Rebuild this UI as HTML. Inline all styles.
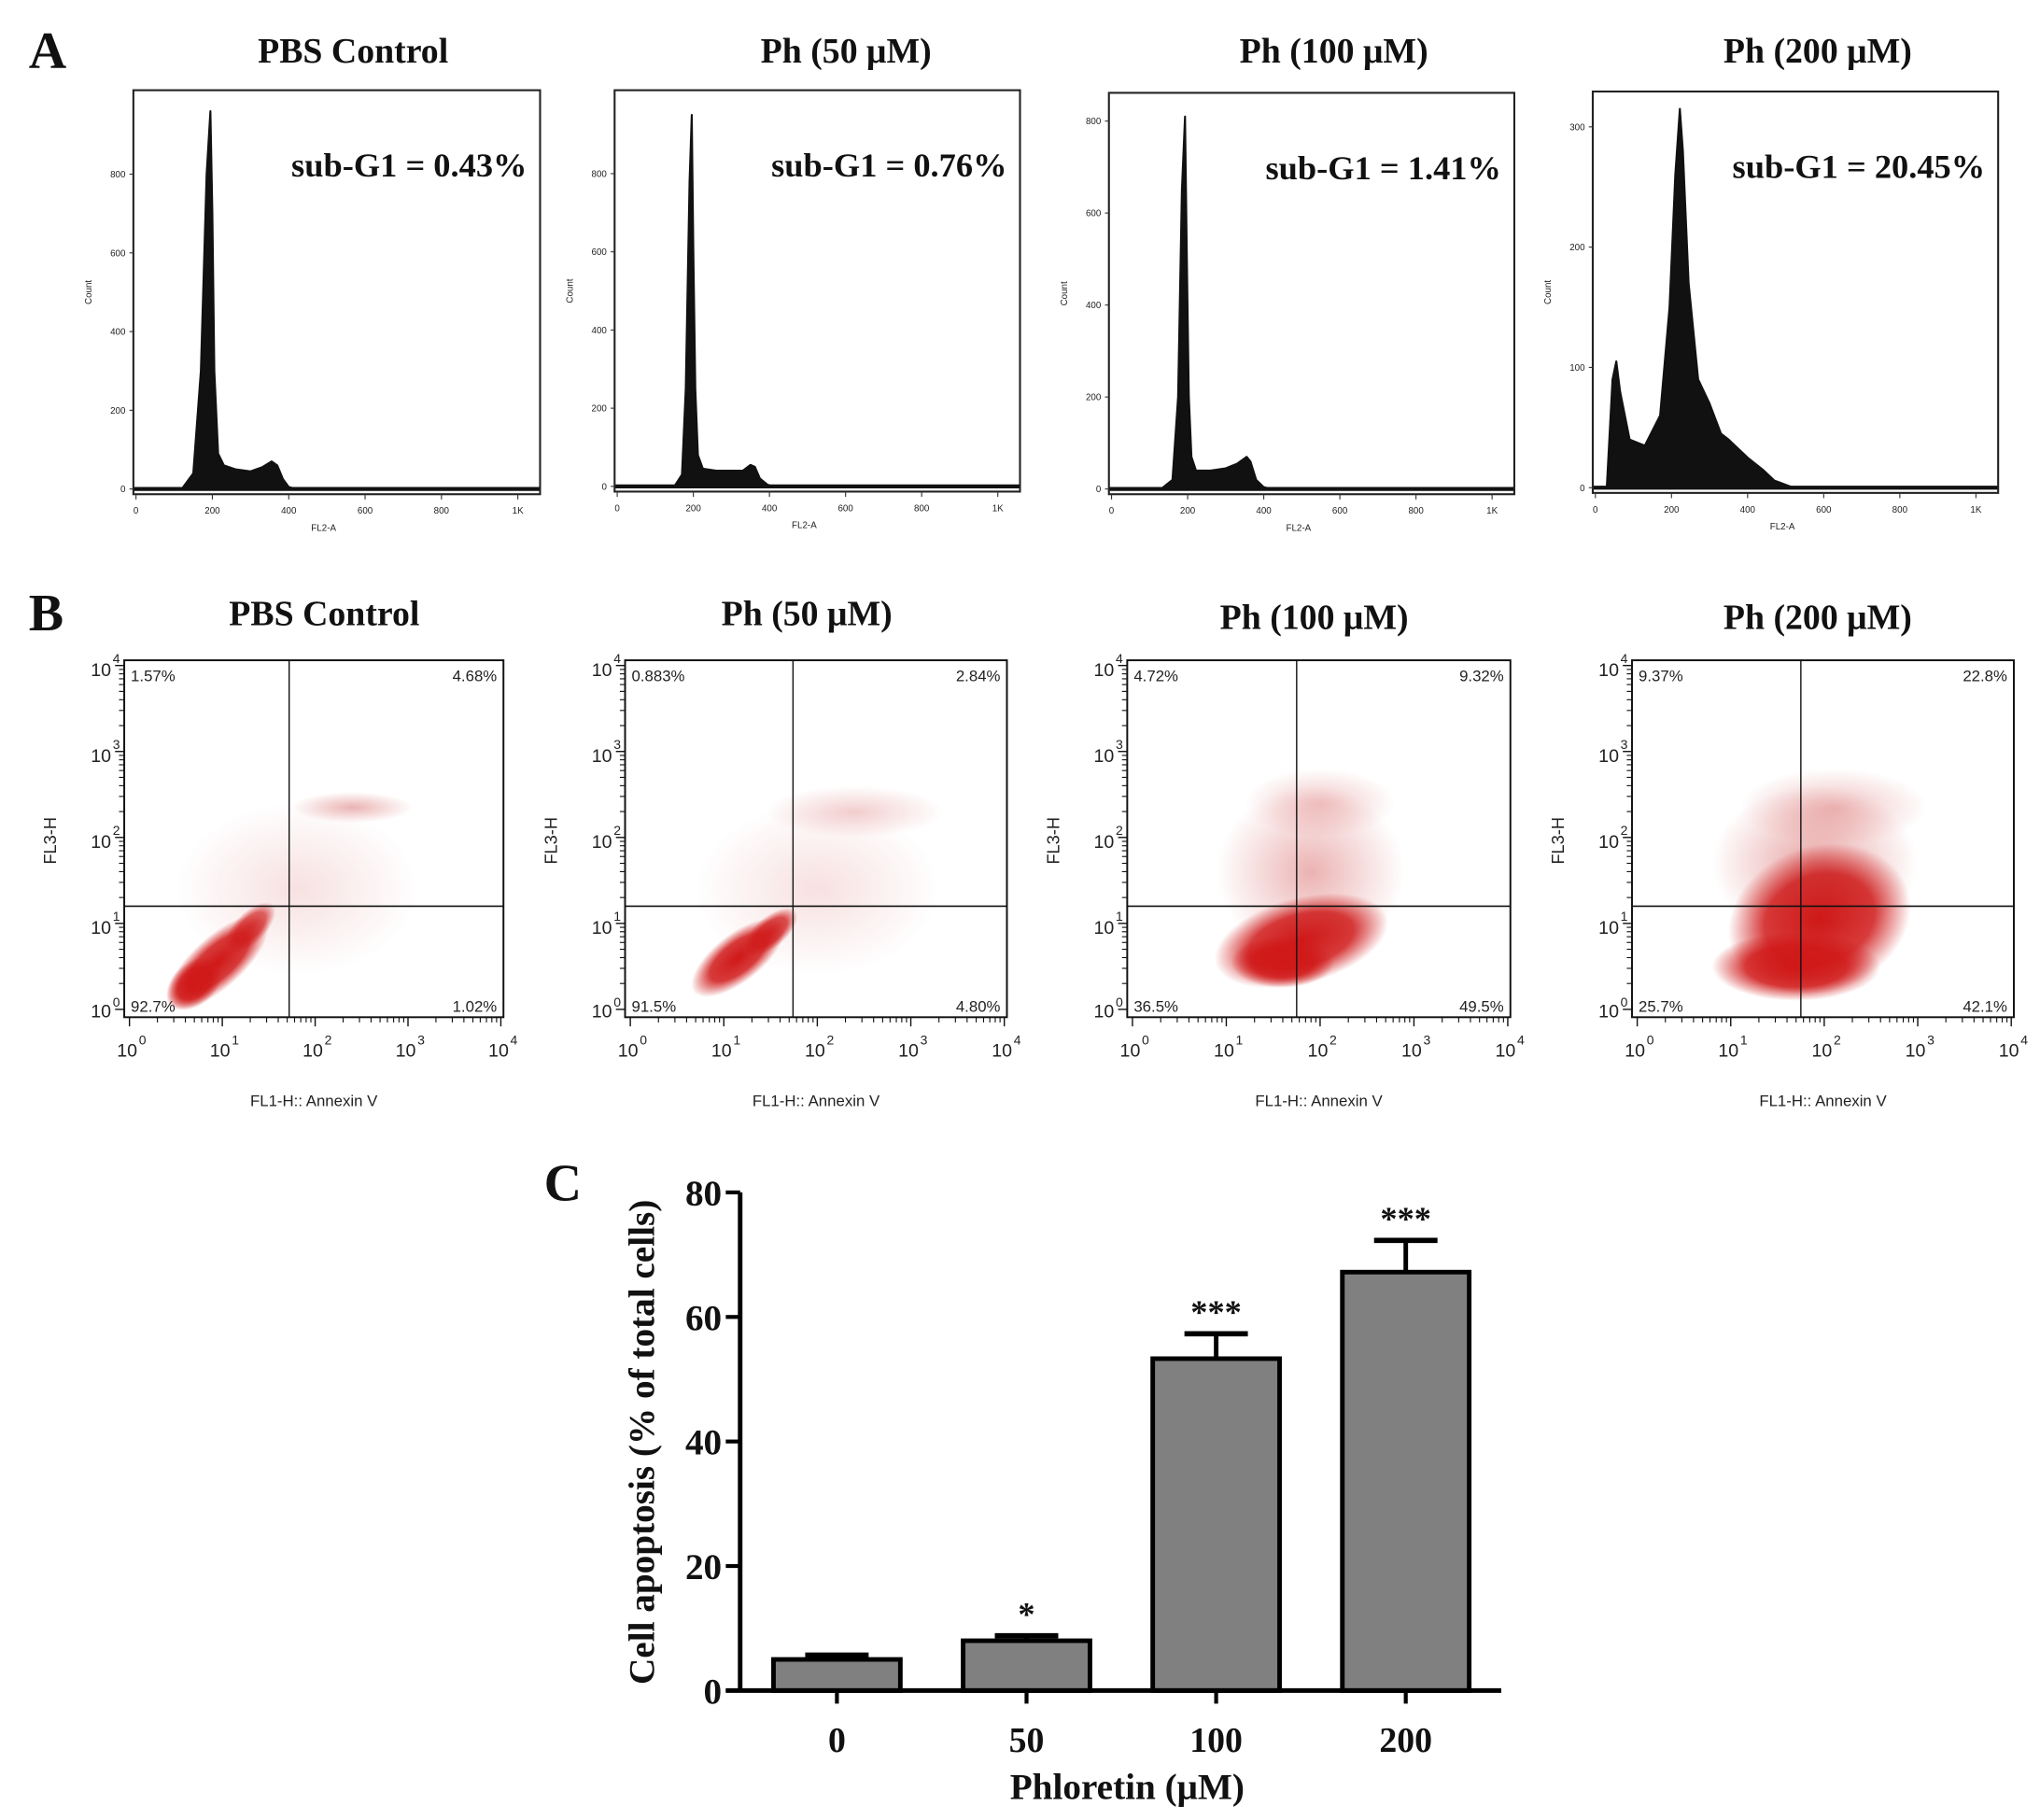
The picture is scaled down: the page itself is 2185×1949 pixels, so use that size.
<!DOCTYPE html>
<html><head><meta charset="utf-8"><style>
html,body{margin:0;padding:0;background:#fff}
svg{display:block}
.ser{font-family:"Liberation Serif",serif;font-weight:bold;fill:#111}
.san{font-family:"Liberation Sans",sans-serif;fill:#222}
</style></head><body>
<svg id="fig" width="2185" height="1949" viewBox="0 0 1560 1392" preserveAspectRatio="none" xmlns="http://www.w3.org/2000/svg">
<defs>
<radialGradient id="rg"><stop offset="0" stop-color="#d01818" stop-opacity="1"/><stop offset="0.6" stop-color="#d01818" stop-opacity="0.85"/><stop offset="1" stop-color="#d01818" stop-opacity="0"/></radialGradient>
<radialGradient id="rg2"><stop offset="0" stop-color="#c41616" stop-opacity="0.6"/><stop offset="1" stop-color="#c41616" stop-opacity="0"/></radialGradient>
</defs>
<text class="ser" x="22" y="52" font-size="40">A</text>
<text class="ser" x="22" y="482" font-size="40">B</text>
<text class="ser" x="416" y="918" font-size="40">C</text>
<g id="gA"></g><g id="gB"></g><g id="gC"></g>
</svg>
<script>
const NS="http://www.w3.org/2000/svg";
function mk(p,t,a,txt){const e=document.createElementNS(NS,t);for(const k in a)e.setAttribute(k,a[k]);if(txt!==undefined)e.textContent=txt;p.appendChild(e);return e;}

// ---- Panel A data ----
const histTitles=["PBS Control","Ph (50 μM)","Ph (100 μM)","Ph (200 μM)"];
const subG1=["sub-G1 = 0.43%","sub-G1 = 0.76%","sub-G1 = 1.41%","sub-G1 = 20.45%"];
const histYMax=[1000,1000,850,325];
const histYTicks=[[0,200,400,600,800],[0,200,400,600,800],[0,200,400,600,800],[0,100,200,300]];
const histXTicks=["0","200","400","600","800","1K"];
const histChannels=[[120,150,170,185,195,200,205,215,230,260,300,330,355,370,385,400,420,1000],
 [150,170,180,190,196,200,205,212,225,260,300,330,350,362,375,395,410,1000],
 [130,160,175,185,193,198,203,210,222,260,300,330,355,365,380,400,420,1000],
 [30,45,55,65,90,130,170,195,210,222,230,245,270,300,330,350,400,440,470,520,1000]];
const histCounts=[[0,40,300,800,960,700,300,90,60,50,45,55,70,60,25,5,0,0],
 [0,30,250,780,950,600,250,80,45,40,40,40,55,50,20,4,0,0],
 [0,20,200,650,810,500,200,70,40,40,45,55,70,60,20,4,0,0],
 [0,90,105,80,40,35,60,150,260,315,280,170,90,70,45,40,25,15,6,0,0]];
const histBoxes=[[102,69,311,309],[470,69,310,307],[848,71,310,307],[1218,70,310,307]];
const titleX=[270,647,1020,1390];

const gA=document.getElementById('gA');
histBoxes.forEach((b,i)=>{
  const [L,T,W,H]=b;
  const g=mk(gA,'g',{});
  
  
  const xs=v=>L+2+v/1024*(W-12);
  const ys=v=>T+H-4-v/histYMax[i]*(H-8);
  const t=mk(g,'text',{class:'ser',x:titleX[i],y:48,'font-size':27,'text-anchor':'middle'},histTitles[i]);
  
  let d='M'+xs(0)+','+ys(0);
  histChannels[i].forEach((c,j)=>{d+=' L'+xs(c).toFixed(1)+','+ys(histCounts[i][j]).toFixed(1);});
  d+=' L'+xs(1024)+','+ys(0)+'Z';
  const p=mk(g,'path',{d:d,fill:'#111',stroke:'#111','stroke-width':1.5,'stroke-linejoin':'round'});
  
  mk(g,'line',{x1:L,y1:ys(0),x2:L+W,y2:ys(0),stroke:'#111','stroke-width':3});
  mk(g,'rect',{x:L,y:T,width:W,height:H,fill:'none',stroke:'#222','stroke-width':1.5});
  const s=mk(g,'text',{class:'ser',x:L+W-10,y:T+66,'font-size':26,'text-anchor':'end'},subG1[i]);
  
  histYTicks[i].forEach(v=>{
    mk(g,'line',{x1:L-3,y1:ys(v),x2:L,y2:ys(v),stroke:'#333','stroke-width':0.8});
    mk(g,'text',{class:'san',x:L-6,y:ys(v)+2.5,'font-size':7,'text-anchor':'end'},v);
  });
  histXTicks.forEach((lab,k)=>{
    const v=k*200;const x=xs(k<5?v:1000);
    mk(g,'line',{x1:x,y1:T+H,x2:x,y2:T+H+4,stroke:'#333','stroke-width':0.8});
    mk(g,'text',{class:'san',x:x,y:T+H+15,'font-size':7,'text-anchor':'middle'},lab);
  });
  mk(g,'text',{class:'san',x:L+W/2-10,y:T+H+28,'font-size':7,'text-anchor':'middle'},'FL2-A');
  mk(g,'text',{class:'san',x:0,y:0,'font-size':7,'text-anchor':'middle',transform:`translate(${L-32},${T+H/2}) rotate(-90)`},'Count');
});

// ---- Panel B data ----
const dotTitles=["PBS Control","Ph (50 μM)","Ph (100 μM)","Ph (200 μM)"];
const dotTitleX=[248,617,1005,1390];
const quadLabels=[["1.57%","4.68%","92.7%","1.02%"],["0.883%","2.84%","91.5%","4.80%"],["4.72%","9.32%","36.5%","49.5%"],["9.37%","22.8%","25.7%","42.1%"]];
const gateX=[1.72,1.74,1.75,1.75];
const gateY=[1.2,1.2,1.2,1.2];
// clusters: [log x, log y, spread x (decades), spread y (decades), angle, strength]
const clusters=[
 [[0.95,0.55,0.7,0.3,-42,1],[0.7,0.3,0.35,0.25,-42,1],[1.3,0.95,0.35,0.18,-45,0.7],[2.4,2.35,0.65,0.18,0,0.45],[1.8,1.4,1.3,1.0,0,0.12]],
 [[1.15,0.6,0.6,0.28,-38,1],[1.5,0.9,0.35,0.18,-40,0.8],[2.4,2.3,0.95,0.3,0,0.25],[2.0,1.4,1.3,1.0,0,0.12]],
 [[1.8,0.8,0.95,0.5,-15,1],[1.6,0.55,0.55,0.3,0,0.95],[1.9,1.6,1.0,1.0,0,0.45],[2.0,2.4,0.8,0.4,0,0.3]],
 [[1.95,1.05,1.0,0.85,-20,1],[1.7,0.5,0.9,0.4,0,0.9],[1.9,1.7,1.1,0.9,0,0.55],[2.1,2.35,1.0,0.45,0,0.35]]];
const logTicks=["0","1","2","3","4"];
const dotBoxes=[[95,505,290,273],[478,505,292,273],[862,505,293,273],[1248,505,292,273]];

const gB=document.getElementById('gB');
dotBoxes.forEach((b,i)=>{
  const [L,T,W,H]=b;
  const g=mk(gB,'g',{});
  
  
  const xs=v=>L+4+v*(W-6)/4;
  const ys=v=>T+H-6-v*(H-10)/4;
  const dx=(W-6)/4, dy=(H-10)/4;
  const t=mk(g,'text',{class:'ser',x:dotTitleX[i],y:i<2?478:481,'font-size':27,'text-anchor':'middle'},dotTitles[i]);
  
  const cg=mk(g,'g',{});
  clusters[i].forEach(c=>{
    const e=mk(cg,'ellipse',{cx:xs(c[0]),cy:ys(c[1]),rx:c[2]*dx,ry:c[3]*dy,fill:c[5]>0.6?'url(#rg)':'url(#rg2)',opacity:Math.min(1,c[5]+0.1),transform:`rotate(${c[4]} ${xs(c[0])} ${ys(c[1])})`});
    
  });
  mk(g,'rect',{x:L,y:T,width:W,height:H,fill:'none',stroke:'#111','stroke-width':1.4});
  const vl=mk(g,'line',{x1:xs(gateX[i]),y1:T,x2:xs(gateX[i]),y2:T+H,stroke:'#111','stroke-width':1});
  
  const hl=mk(g,'line',{x1:L,y1:ys(gateY[i]),x2:L+W,y2:ys(gateY[i]),stroke:'#111','stroke-width':1.2});
  
  const q=quadLabels[i];
  [[L+5,T+16,'start',q[0]],[L+W-5,T+16,'end',q[1]],[L+5,T+H-4,'start',q[2]],[L+W-5,T+H-4,'end',q[3]]].forEach(a=>{
    const tt=mk(g,'text',{class:'san',x:a[0],y:a[1],'font-size':12,'text-anchor':a[2]},a[3]);
    
  });
  logTicks.forEach((e,k)=>{
    const x=xs(k), y=ys(k);
    mk(g,'line',{x1:x,y1:T+H,x2:x,y2:T+H+7,stroke:'#111','stroke-width':1});
    mk(g,'line',{x1:L-7,y1:y,x2:L,y2:y,stroke:'#111','stroke-width':1});
    if(k<4)for(let m=2;m<10;m++){const lx=xs(k+Math.log10(m)),ly=ys(k+Math.log10(m));
      mk(g,'line',{x1:lx,y1:T+H,x2:lx,y2:T+H+4,stroke:'#111','stroke-width':0.8});
      mk(g,'line',{x1:L-4,y1:ly,x2:L,y2:ly,stroke:'#111','stroke-width':0.8});}
    mk(g,'text',{class:'san',x:x+6,y:T+H+30,'font-size':14,'text-anchor':'end'},'10');
    mk(g,'text',{class:'san',x:x+10,y:T+H+21,'font-size':10,'text-anchor':'middle'},e);
    mk(g,'text',{class:'san',x:L-10,y:y+8-(k==0?2:0),'font-size':14,'text-anchor':'end'},'10');
    mk(g,'text',{class:'san',x:L-6,y:y-2,'font-size':10,'text-anchor':'middle'},e);
  });
  mk(g,'text',{class:'san',x:L+W/2,y:T+H+68,'font-size':12,'text-anchor':'middle'},'FL1-H:: Annexin V');
  mk(g,'text',{class:'san',x:0,y:0,'font-size':13,'text-anchor':'middle',transform:`translate(${L-52},${T+138}) rotate(-90)`},'FL3-H');
});

// ---- Panel C data ----
const barCats=["0","50","100","200"];
const barVals=[5.0,8.0,53.3,67.2];
const barErr=[0.7,0.8,4.0,5.1];
const barSig=["","*","***","***"];
const yTicks=[0,20,40,60,80];

const gC=document.getElementById('gC');
const X0=566,Y0=1293,Y80=912;
const yC=v=>Y0-(v/80)*(Y0-Y80);
const xC=i=>640+i*145;
const bw=97;
barCats.forEach((c,i)=>{
  const x=xC(i);
  const el=mk(gC,'line',{x1:x,y1:yC(barVals[i]),x2:x,y2:yC(barVals[i]+barErr[i]),stroke:'#000','stroke-width':3.5});
  
  mk(gC,'line',{x1:x-bw/4,y1:yC(barVals[i]+barErr[i]),x2:x+bw/4,y2:yC(barVals[i]+barErr[i]),stroke:'#000','stroke-width':4});
  const r=mk(gC,'rect',{x:x-bw/2,y:yC(barVals[i]),width:bw,height:Y0-yC(barVals[i]),fill:'#808080',stroke:'#000','stroke-width':3.5});
  
  if(barSig[i]){const s=mk(gC,'text',{class:'ser',x:x,y:yC(barVals[i]+barErr[i])-8,'font-size':26,'text-anchor':'middle'},barSig[i]);
    }
  mk(gC,'line',{x1:x,y1:Y0,x2:x,y2:Y0+10,stroke:'#000','stroke-width':3});
  const l=mk(gC,'text',{class:'ser',x:x,y:1340,'font-size':27,'text-anchor':'middle'},c);
  
});
mk(gC,'line',{x1:X0,y1:Y80,x2:X0,y2:Y0+1.5,stroke:'#000','stroke-width':3.5});
mk(gC,'line',{x1:555,y1:Y0,x2:1148,y2:Y0,stroke:'#000','stroke-width':3.5});
yTicks.forEach(v=>{
  mk(gC,'line',{x1:X0-11,y1:yC(v),x2:X0,y2:yC(v),stroke:'#000','stroke-width':3});
  const t=mk(gC,'text',{class:'ser',x:X0-14,y:yC(v)+10,'font-size':28,'text-anchor':'end'},v);
  
});
const xt=mk(gC,'text',{class:'ser',x:862,y:1376,'font-size':28,'text-anchor':'middle'},'Phloretin (μM)');

const yt=mk(gC,'text',{class:'ser',x:0,y:0,'font-size':28,'text-anchor':'middle',transform:'translate(500,1103) rotate(-90)'},'Cell apoptosis (% of total cells)');

</script>
</body></html>
